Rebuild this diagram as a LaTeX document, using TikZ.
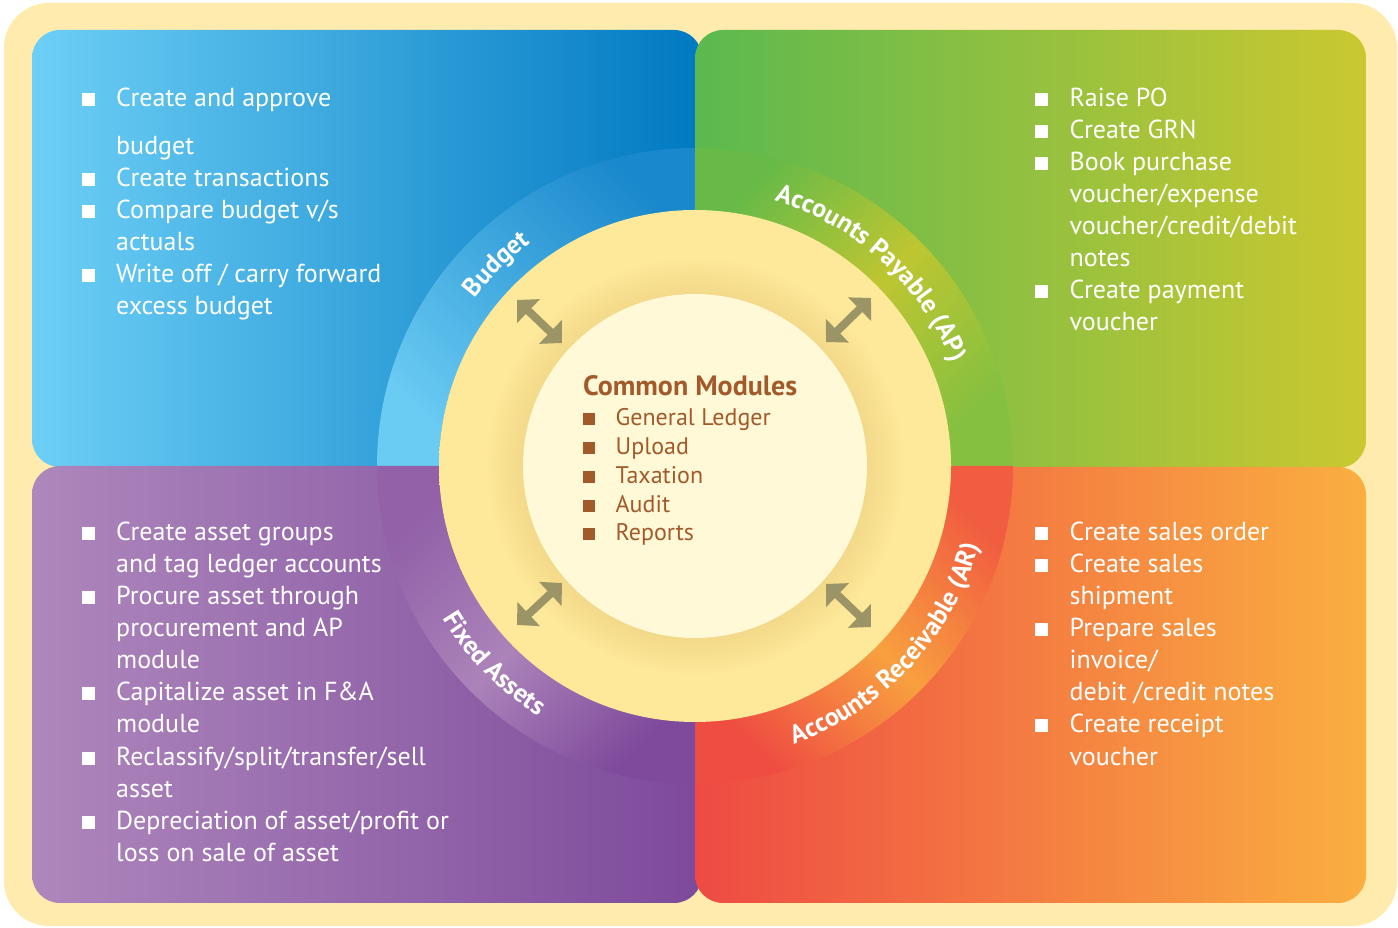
\documentclass[tikz,border=0pt]{standalone}
\usepackage{fontspec}
\setmainfont{PT Sans}
\usetikzlibrary{decorations.text,arrows.meta}
\definecolor{cream}{HTML}{FEEBAD}
\definecolor{blueL}{HTML}{6DCFF6}
\definecolor{blueD}{HTML}{0079C1}
\definecolor{grnL}{HTML}{5BB94F}
\definecolor{grnR}{HTML}{CBC830}
\definecolor{purL}{HTML}{AE87BC}
\definecolor{purD}{HTML}{7D4A9B}
\definecolor{redL}{HTML}{EE4A43}
\definecolor{redR}{HTML}{FAAF40}
\definecolor{rbT}{HTML}{1A88CC}
\definecolor{rbB}{HTML}{6ACBF3}
\definecolor{rgT}{HTML}{68BA48}
\definecolor{rgM}{HTML}{BEC631}
\definecolor{rgB}{HTML}{86C040}
\definecolor{rrT}{HTML}{F15D40}
\definecolor{rrM}{HTML}{F8A03F}
\definecolor{rrB}{HTML}{EF4C42}
\definecolor{rpT}{HTML}{9261A8}
\definecolor{rpM}{HTML}{AB83B9}
\definecolor{rpB}{HTML}{7F4A9C}
\definecolor{bandL}{HTML}{FEE899}
\definecolor{bandD}{HTML}{F3D98A}
\definecolor{innerc}{HTML}{FFF9D7}
\definecolor{brownt}{HTML}{A35A2B}
\definecolor{olivea}{HTML}{9A9467}
\pgfdeclareradialshading{bandshade}{\pgfpoint{0bp}{0bp}}{color(0bp)=(bandD); color(16.8bp)=(bandD); color(20.5bp)=(bandL); color(25bp)=(bandL); color(50bp)=(bandL)}
\newcommand\ringfont{\fontsize{26}{26}\selectfont\bfseries\color{white}}
\tikzset{
  txt/.style={anchor=base west, inner sep=0pt, text=white, font=\fontsize{26}{30}\selectfont},
  ctxt/.style={anchor=base west, inner sep=0pt, text=brownt, font=\fontsize{24}{28}\selectfont},
  ctitle/.style={anchor=base west, inner sep=0pt, text=brownt, font=\fontsize{28}{30}\selectfont\bfseries},
  bul/.style={fill=white, minimum size=13pt, inner sep=0pt},
  cbul/.style={fill=brownt, minimum size=12pt, inner sep=0pt},
  arr/.style={draw=olivea, line width=8pt, {Triangle[length=16pt,width=32pt]}-{Triangle[length=16pt,width=32pt]}},
  quad/.style={rounded corners=28pt}
}
\begin{document}
\begin{tikzpicture}[x=1pt,y=1pt]
\useasboundingbox (0,0) rectangle (1398,928);
\fill[white] (0,0) rectangle (1398,928);
\fill[cream, rounded corners=45pt] (4,2) rectangle (1397,925);
% quadrants
\shade[quad, left color=blueL, right color=blueD] (32,461) rectangle (702,898);
\shade[quad, left color=purL, right color=purD] (32,25) rectangle (702,462);
\shade[quad, left color=grnL, right color=grnR] (695,460) rectangle (1366,898);
\shade[quad, left color=redL, right color=redR] (695,25) rectangle (1366,461);
% ring
\coordinate (c) at (695,462);
\shade[top color=rbT, bottom color=rbB, shading angle=-45]
  (c) ++(90:318pt) arc[start angle=90, end angle=180, radius=318pt] -- ++(0:62pt)
  arc[start angle=180, end angle=90, radius=256pt] -- cycle;
\shade[top color=rgT, bottom color=rgB, middle color=rgM, shading angle=45]
  (c) ++(0:318pt) arc[start angle=0, end angle=90, radius=318pt] -- ++(270:62pt)
  arc[start angle=90, end angle=0, radius=256pt] -- cycle;
\shade[top color=rrT, bottom color=rrB, middle color=rrM, shading angle=-45]
  (c) ++(270:318pt) arc[start angle=270, end angle=360, radius=318pt] -- ++(180:62pt)
  arc[start angle=360, end angle=270, radius=256pt] -- cycle;
\shade[top color=rpT, bottom color=rpB, middle color=rpM, shading angle=45]
  (c) ++(180:318pt) arc[start angle=180, end angle=270, radius=318pt] -- ++(90:62pt)
  arc[start angle=270, end angle=180, radius=256pt] -- cycle;
% band and inner circle
\shade[shading=bandshade] (c) circle[radius=256pt];
\fill[innerc] (c) circle[radius=172pt];
% ring labels
\path[decorate, decoration={text along path, text align=center, text={|\ringfont|Budget}}]
  (c) ++(179.5:277pt) arc[start angle=179.5, end angle=89.5, radius=277pt];
\path[decorate, decoration={text along path, text align=center, text={|\ringfont|Accounts Payable (AP)}}]
  (c) ++(92.6:277pt) arc[start angle=92.6, end angle=2.6, radius=277pt];
\path[decorate, decoration={text along path, text align=center, text={|\ringfont|Accounts Receivable (AR)}}]
  (c) ++(-88:295pt) arc[start angle=-88, end angle=2, radius=295pt];
\path[decorate, decoration={text along path, text align=center, text={|\ringfont|Fixed Assets}}]
  (c) ++(-180.5:295pt) arc[start angle=-180.5, end angle=-90.5, radius=295pt];
% arrows
\coordinate (ula) at (517,628); \coordinate (ulb) at (562,585);
\coordinate (ura) at (871,630); \coordinate (urb) at (826,586);
\coordinate (lla) at (517,303); \coordinate (llb) at (562,345);
\coordinate (lra) at (871,301); \coordinate (lrb) at (826,344);
\draw[arr] (ula) -- (ulb);
\draw[arr] (ura) -- (urb);
\draw[arr] (lla) -- (llb);
\draw[arr] (lra) -- (lrb);
% centre text
\node[ctitle] (cm) at (583,532) {Common Modules};
\node[ctxt] (cm1) at (615.5,502) {General Ledger};
\node[ctxt] (cm2) at (615.5,473) {Upload};
\node[ctxt] (cm3) at (615.5,444) {Taxation};
\node[ctxt] (cm4) at (615.5,415) {Audit};
\node[ctxt] (cm5) at (615.5,387) {Reports};
\node[cbul] (cb1) at (589,509) {};
\node[cbul] (cb2) at (589,480) {};
\node[cbul] (cb3) at (589,451) {};
\node[cbul] (cb4) at (589,422) {};
\node[cbul] (cb5) at (589,394) {};
% Budget list
\node[txt] (b1) at (116,821) {Create and approve};
\node[txt] (b2) at (116,773) {budget};
\node[txt] (b3) at (116,741) {Create transactions};
\node[txt] (b4) at (116,709) {Compare budget v/s};
\node[txt] (b5) at (116,677) {actuals};
\node[txt] (b6) at (116,645) {Write off / carry forward};
\node[txt] (b7) at (116,613) {excess budget};
\node[bul] (bb1) at (88.5,828.5) {};
\node[bul] (bb2) at (88.5,748.5) {};
\node[bul] (bb3) at (88.5,716.5) {};
\node[bul] (bb4) at (88.5,652.5) {};
% AP list
\node[txt] (g1) at (1069.5,821) {Raise PO};
\node[txt] (g2) at (1069.5,789) {Create GRN};
\node[txt] (g3) at (1069.5,757) {Book purchase};
\node[txt] (g4) at (1069.5,725) {voucher/expense};
\node[txt] (g5) at (1069.5,693) {voucher/credit/debit};
\node[txt] (g6) at (1069.5,661) {notes};
\node[txt] (g7) at (1069.5,629) {Create payment};
\node[txt] (g8) at (1069.5,597) {voucher};
\node[bul] (gb1) at (1041.5,828.5) {};
\node[bul] (gb2) at (1041.5,796.5) {};
\node[bul] (gb3) at (1041.5,764.5) {};
\node[bul] (gb4) at (1041.5,636.5) {};
% AR list
\node[txt] (r1) at (1069.5,387) {Create sales order};
\node[txt] (r2) at (1069.5,355) {Create sales};
\node[txt] (r3) at (1069.5,323) {shipment};
\node[txt] (r4) at (1069.5,291) {Prepare sales};
\node[txt] (r5) at (1069.5,259) {invoice/};
\node[txt] (r6) at (1069.5,227) {debit /credit notes};
\node[txt] (r7) at (1069.5,195) {Create receipt};
\node[txt] (r8) at (1069.5,162) {voucher};
\node[bul] (rb1) at (1041.5,394.5) {};
\node[bul] (rb2) at (1041.5,362.5) {};
\node[bul] (rb3) at (1041.5,298.5) {};
\node[bul] (rb4) at (1041.5,202.5) {};
% Fixed assets list
\node[txt] (p1) at (116,387) {Create asset groups};
\node[txt] (p2) at (116,355) {and tag ledger accounts};
\node[txt] (p3) at (116,323) {Procure asset through};
\node[txt] (p4) at (116,291) {procurement and AP};
\node[txt] (p5) at (116,259) {module};
\node[txt] (p6) at (116,227) {Capitalize asset in F\&A};
\node[txt] (p7) at (116,195) {module};
\node[txt] (p8) at (116,162) {Reclassify/split/transfer/sell};
\node[txt] (p9) at (116,130) {asset};
\node[txt] (p10) at (116,98) {Depreciation of asset/profit or};
\node[txt] (p11) at (116,66) {loss on sale of asset};
\node[bul] (pb1) at (88.5,394.5) {};
\node[bul] (pb2) at (88.5,330.5) {};
\node[bul] (pb3) at (88.5,234.5) {};
\node[bul] (pb4) at (88.5,169.5) {};
\node[bul] (pb5) at (88.5,105.5) {};
\end{tikzpicture}
\end{document}
